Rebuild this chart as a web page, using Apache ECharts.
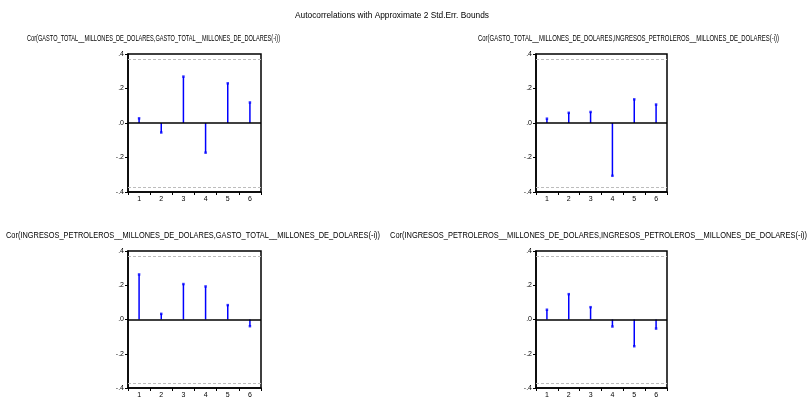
<!DOCTYPE html>
<html>
<head>
<meta charset="utf-8">
<script src="https://cdn.jsdelivr.net/npm/echarts@6/dist/echarts.min.js"></script>
<style>
  html, body { margin: 0; padding: 0; background: #fff; }
  #main { width: 809px; height: 400px; }
</style>
</head>
<body>
<div id="main"></div>
<script>
// lags on the x axis
const lags = ['1', '2', '3', '4', '5', '6'];
// correlations
const corrGastoGasto = [0.027, -0.055, 0.269, -0.172, 0.230, 0.119];
const corrGastoIngresos = [0.025, 0.059, 0.064, -0.306, 0.137, 0.107];
const corrIngresosGasto = [0.263, 0.033, 0.207, 0.193, 0.084, -0.039];
const corrIngresosIngresos = [0.057, 0.148, 0.072, -0.041, -0.156, -0.053];
// approx 2 std.err. bound
const stdErrBound = 0.37;
const yTickValues = [-0.4, -0.2, 0, 0.2, 0.4];
const yTickLabels = ['-.4', '-.2', '.0', '.2', '.4'];

const mainTitle = 'Autocorrelations with Approximate 2 Std.Err. Bounds';
const panelTitles = [
    'Cor(GASTO_TOTAL__MILLONES_DE_DOLARES,GASTO_TOTAL__MILLONES_DE_DOLARES(-i))',
    'Cor(GASTO_TOTAL__MILLONES_DE_DOLARES,INGRESOS_PETROLEROS__MILLONES_DE_DOLARES(-i))',
    'Cor(INGRESOS_PETROLEROS__MILLONES_DE_DOLARES,GASTO_TOTAL__MILLONES_DE_DOLARES(-i))',
    'Cor(INGRESOS_PETROLEROS__MILLONES_DE_DOLARES,INGRESOS_PETROLEROS__MILLONES_DE_DOLARES(-i))'
];
const panelData = [corrGastoGasto, corrGastoIngresos, corrIngresosGasto, corrIngresosIngresos];

const font = '"Liberation Sans", Arial, sans-serif';
const titleFont = '9px "Liberation Sans", Arial, sans-serif';

// panel layout (px)
const grids = [
    { left: 128, top: 54, width: 133, height: 138 },
    { left: 536, top: 54, width: 131, height: 138 },
    { left: 128, top: 251, width: 133, height: 137 },
    { left: 536, top: 251, width: 131, height: 137 }
];
// text boxes: left, right, vertical centre (the original font is a narrow one)
const titleBoxes = [
    { x0: 295, x1: 489, y: 16 },
    { x0: 27, x1: 280, y: 39 },
    { x0: 478, x1: 779, y: 39 },
    { x0: 6, x1: 380, y: 236 },
    { x0: 390, x1: 807, y: 236 }
];

// squeeze each title to the width it has in the original
let ctx = document.createElement('canvas').getContext('2d');
ctx.font = titleFont;
let texts = [mainTitle].concat(panelTitles);
let graphics = texts.map((t, i) => {
    let b = titleBoxes[i];
    let w = ctx.measureText(t).width;
    return {
        type: 'text',
        x: b.x0, y: b.y,
        scaleX: (b.x1 - b.x0) / w,
        silent: true,
        style: {
            text: t,
            font: titleFont,
            fill: '#000',
            textAlign: 'left',
            textVerticalAlign: 'middle'
        }
    };
});

var myChart = echarts.init(document.getElementById('main'));

let xAxes = [], yAxes = [], series = [];
grids.forEach((g, i) => {
    xAxes.push({
        gridIndex: i,
        type: 'category',
        data: lags,
        boundaryGap: true,
        position: 'bottom',
        axisLine: { onZero: false, lineStyle: { color: '#000', width: 1.5 } },
        axisTick: { show: true, length: 3, lineStyle: { color: '#000' } },
        axisLabel: { fontFamily: font, fontSize: 7, color: '#000', margin: 4 },
        splitLine: { show: false }
    });
    yAxes.push({
        gridIndex: i,
        type: 'value',
        min: -0.4, max: 0.4, interval: 0.2,
        axisLine: { show: true, lineStyle: { color: '#000', width: 1.5 } },
        axisTick: { show: true, length: 3, lineStyle: { color: '#000' } },
        axisLabel: {
            fontFamily: font, fontSize: 7, color: '#000', margin: 4,
            formatter: function(v) {
                let k = yTickValues.findIndex(t => Math.abs(t - v) < 1e-9);
                return k >= 0 ? yTickLabels[k] : '';
            }
        },
        splitLine: { show: false }
    });
    series.push({
        type: 'bar',
        xAxisIndex: i, yAxisIndex: i,
        data: panelData[i],
        barWidth: 1.5,
        itemStyle: { color: '#0000ff' },
        silent: true,
        markLine: {
            silent: true,
            symbol: 'none',
            label: { show: false },
            data: [
                { yAxis: stdErrBound, lineStyle: { color: '#bdbdbd', type: [3, 2], width: 1 } },
                { yAxis: -stdErrBound, lineStyle: { color: '#bdbdbd', type: [3, 2], width: 1 } },
                { yAxis: 0, lineStyle: { color: '#000', type: 'solid', width: 1.5 } }
            ]
        }
    });
    series.push({
        type: 'scatter',
        xAxisIndex: i, yAxisIndex: i,
        data: panelData[i],
        symbol: 'rect',
        symbolSize: [2.5, 2.5],
        itemStyle: { color: '#0000ff' },
        silent: true
    });
});

var option = {
    backgroundColor: '#fff',
    animation: false,
    graphic: graphics,
    grid: grids.map(g => Object.assign({
        show: true,
        borderColor: '#000',
        borderWidth: 1.5,
        backgroundColor: 'transparent',
        containLabel: false
    }, g)),
    xAxis: xAxes,
    yAxis: yAxes,
    series: series
};

myChart.setOption(option);
</script>
</body>
</html>
